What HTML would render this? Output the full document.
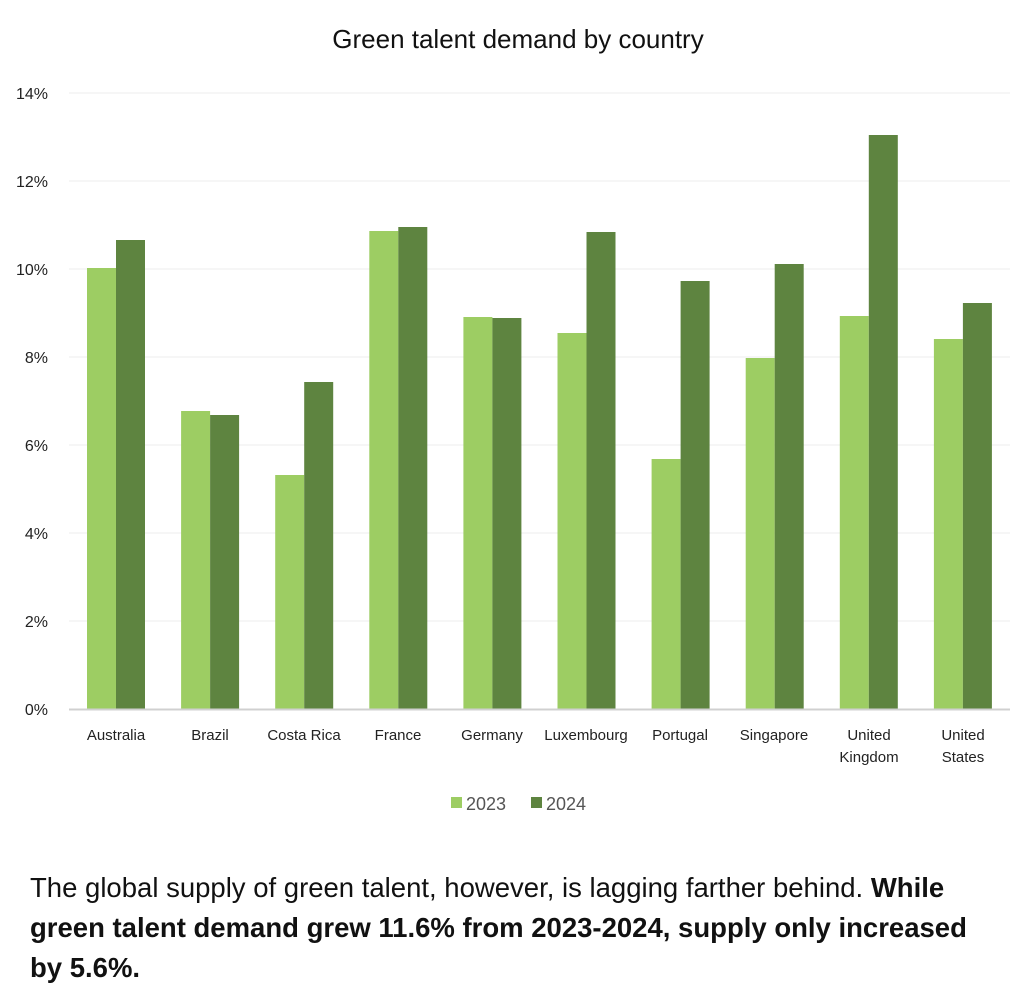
<!DOCTYPE html>
<html><head><style>
body{margin:0;background:#fff;font-family:"Liberation Sans",sans-serif;}
.t{position:absolute;left:0;width:1036px;text-align:center;top:24px;font-size:26px;color:#111;}
.p{position:absolute;left:30px;top:868px;width:1000px;font-size:27.5px;line-height:40px;color:#111;white-space:nowrap;}
</style></head><body>
<div class="t">Green talent demand by country</div>
<svg width="1024" height="995" style="position:absolute;left:0;top:0" font-family="Liberation Sans, sans-serif">
<g stroke="#ececec" stroke-width="1">
<line x1="69" x2="1010" y1="93" y2="93"/><line x1="69" x2="1010" y1="181" y2="181"/>
<line x1="69" x2="1010" y1="269" y2="269"/><line x1="69" x2="1010" y1="357" y2="357"/>
<line x1="69" x2="1010" y1="445" y2="445"/><line x1="69" x2="1010" y1="533" y2="533"/>
<line x1="69" x2="1010" y1="621" y2="621"/>
</g>
<g font-size="16" fill="#222" text-anchor="end">
<text x="48" y="99">14%</text><text x="48" y="187">12%</text><text x="48" y="275">10%</text>
<text x="48" y="363">8%</text><text x="48" y="451">6%</text><text x="48" y="539">4%</text>
<text x="48" y="627">2%</text><text x="48" y="715">0%</text>
</g>
<g id="bars"></g>
<line x1="69" x2="1010" y1="709.5" y2="709.5" stroke="#d0d0d0" stroke-width="2"/>
<g font-size="15" fill="#222" text-anchor="middle">
<text x="116" y="740">Australia</text><text x="210" y="740">Brazil</text><text x="304" y="740">Costa Rica</text>
<text x="398" y="740">France</text><text x="492" y="740">Germany</text><text x="586" y="740">Luxembourg</text>
<text x="680" y="740">Portugal</text><text x="774" y="740">Singapore</text>
<text x="869" y="740">United</text><text x="869" y="762">Kingdom</text>
<text x="963" y="740">United</text><text x="963" y="762">States</text>
</g>
<rect x="451" y="797" width="11" height="11" fill="#9dcd63"/>
<text x="466" y="810" font-size="18" fill="#555">2023</text>
<rect x="531" y="797" width="11" height="11" fill="#5e8440"/>
<text x="546" y="810" font-size="18" fill="#555">2024</text>
</svg>
<script>
var t=[[268,240],[411,415],[475,382],[231,227],[317,318],[333,232],[459,281],[358,264],[316,135],[339,303]];
var g=document.getElementById('bars'),s='';
t.forEach(function(v,i){var x=87+i*94.1;
s+='<rect x="'+x+'" y="'+v[0]+'" width="29" height="'+(709-v[0])+'" fill="#9dcd63"/>';
s+='<rect x="'+(x+29)+'" y="'+v[1]+'" width="29" height="'+(709-v[1])+'" fill="#5e8440"/>';});
g.innerHTML=s;
</script>
<div class="p">The global supply of green talent, however, is lagging farther behind. <b>While</b><br><b>green talent demand grew 11.6% from 2023-2024, supply only increased</b><br><b>by 5.6%.</b></div>
</body></html>
